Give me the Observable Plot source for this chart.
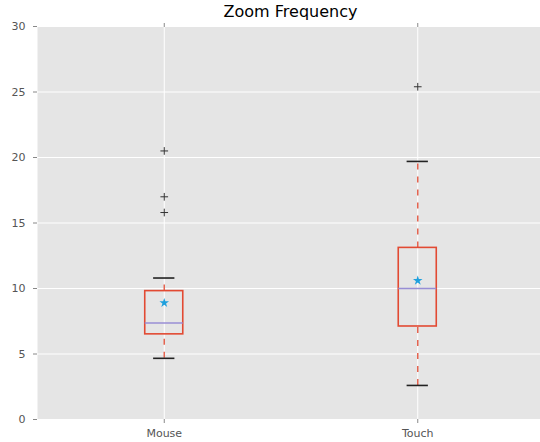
<!DOCTYPE html>
<html>
<head>
<meta charset="utf-8">
<script src="https://cdn.jsdelivr.net/npm/d3@7"></script>
<script src="https://cdn.jsdelivr.net/npm/@observablehq/plot@0.6"></script>
<style>
  body { margin: 0; background: #fff; }
  #wrap { position: relative; width: 540px; height: 442px; overflow: hidden; }
  #title { position: absolute; left: 37px; width: 507px; top: 2px; text-align: center;
           font: 16px "DejaVu Sans", sans-serif; color: #000; }
  #chart { position: absolute; left: 0; top: 0; }
</style>
</head>
<body>
<div id="wrap">
  <div id="chart"></div>
  <div id="title">Zoom Frequency</div>
</div>
<script>
// Box statistics per input device
const categories = ["Mouse", "Touch"];
const positions = [1, 2];
const q1 = [6.5, 7.1];
const median = [7.37, 10.0];
const q3 = [9.8, 13.1];
const whiskerLow = [4.67, 2.6];
const whiskerHigh = [10.8, 19.7];
const means = [8.9, 10.6];
const outliers = [
  [20.5, 17.0, 15.8],
  [25.4]
];
const yTicks = [0, 5, 10, 15, 20, 25, 30];

const boxHalf = 0.075;
const capHalf = 0.042;

const boxes = categories.map((c, i) => ({
  name: c, pos: positions[i], q1: q1[i], med: median[i], q3: q3[i],
  lo: whiskerLow[i], hi: whiskerHigh[i], mean: means[i]
}));
const fliers = categories.flatMap((c, i) => outliers[i].map(v => ({pos: positions[i], v})));

const red = "#E24A33";
const plot = Plot.plot({
  width: 540,
  height: 442,
  marginTop: 26,
  marginBottom: 23,
  marginLeft: 37,
  marginRight: 0,
  style: {fontFamily: "DejaVu Sans, sans-serif", fontSize: "11px", color: "#555", background: "#fff"},
  x: {type: "linear", domain: [0.5, 2.5], range: [37, 544]},
  y: {domain: [0, 30], range: [419, 26]},
  marks: [
    Plot.frame({fill: "#E5E5E5", stroke: null}),
    Plot.gridY(yTicks, {stroke: "#fff", strokeOpacity: 1, strokeWidth: 1}),
    Plot.gridX(positions, {stroke: "#fff", strokeOpacity: 1, strokeWidth: 1}),
    Plot.axisY(yTicks, {tickSize: 4, tickPadding: 8, stroke: "#888", label: null, fill: "#555", fontSize: 11}),
    Plot.axisX(positions, {anchor: "bottom", tickSize: 4, tickPadding: 6, stroke: "#888", label: null,
      fill: "#555", fontSize: 11, tickFormat: d => categories[positions.indexOf(d)]}),
    Plot.axisX(positions, {anchor: "top", tickSize: 4, stroke: "#888", label: null, tickFormat: () => ""}),
    // whiskers
    Plot.ruleX(boxes, {x: "pos", y1: "q3", y2: "hi", stroke: red, strokeOpacity: 0.85, strokeWidth: 1.5, strokeDasharray: "6,7"}),
    Plot.ruleX(boxes, {x: "pos", y1: "lo", y2: "q1", stroke: red, strokeOpacity: 0.85, strokeWidth: 1.5, strokeDasharray: "6,7"}),
    // caps
    Plot.ruleY(boxes, {y: "hi", x1: d => d.pos - capHalf, x2: d => d.pos + capHalf, stroke: "#222", strokeWidth: 1.6}),
    Plot.ruleY(boxes, {y: "lo", x1: d => d.pos - capHalf, x2: d => d.pos + capHalf, stroke: "#222", strokeWidth: 1.6}),
    // boxes
    Plot.rect(boxes, {x1: d => d.pos - boxHalf, x2: d => d.pos + boxHalf, y1: "q1", y2: "q3",
      fill: "none", stroke: red, strokeWidth: 1.6}),
    // medians
    Plot.ruleY(boxes, {y: "med", x1: d => d.pos - boxHalf, x2: d => d.pos + boxHalf, stroke: "#988ED5", strokeWidth: 1.5}),
    // means
    Plot.dot(boxes, {x: "pos", y: "mean", symbol: "star", r: 3, fill: "#1FA0DD", stroke: "none"}),
    // fliers
    Plot.dot(fliers, {x: "pos", y: "v", symbol: "plus", r: 2.6, stroke: "#333", strokeWidth: 1})
  ]
});
document.getElementById("chart").appendChild(plot);
</script>
</body>
</html>
